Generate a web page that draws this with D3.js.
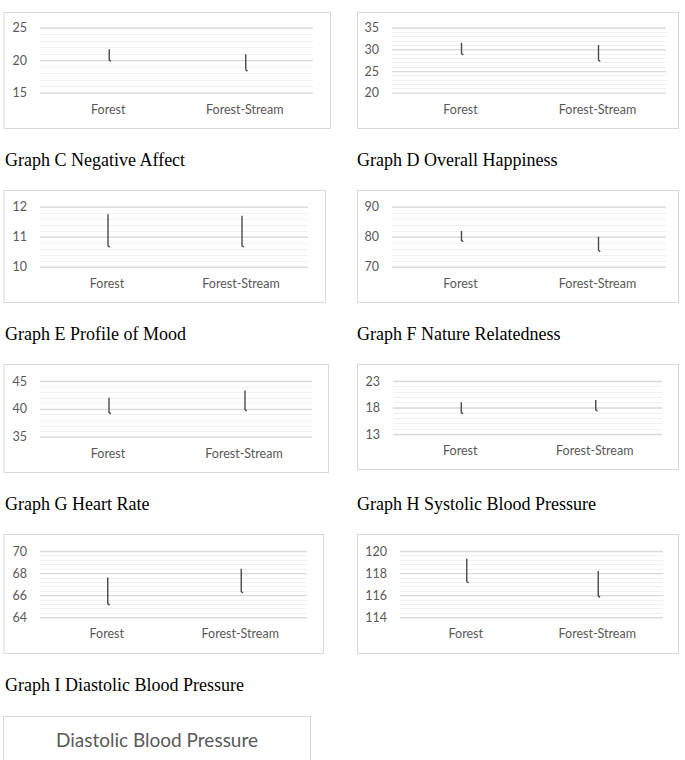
<!DOCTYPE html>
<html>
<head>
<meta charset="utf-8">
<script src="https://cdn.jsdelivr.net/npm/d3@7"></script>
<style>
  body { margin: 0; background: #fff; }
  svg { display: block; }
</style>
</head>
<body>
<div id="chart"></div>
<script>
    // data
    const categories = ["Forest", "Forest-Stream"];
    const rowTitles = ["Graph C Negative Affect", "Graph D Overall Happiness",
                       "Graph E Profile of Mood", "Graph F Nature Relatedness",
                       "Graph G Heart Rate", "Graph H Systolic Blood Pressure",
                       "Graph I Diastolic Blood Pressure"];
    const yDomains = [[15, 25], [20, 35], [10, 12], [70, 90], [35, 45], [13, 23], [64, 70], [114, 120]];
    const majorSteps = [5, 5, 1, 10, 5, 5, 2, 2];
    const minorSteps = [1, 1, 0.2, 2, 1, 1, 0.4, 0.4];
    const highValues = [[21.7, 20.9], [31.5, 31.0], [11.75, 11.7], [81.9, 80.0],
                        [42.0, 43.3], [19.0, 19.4], [67.6, 68.4], [119.3, 118.2]];
    const lowValues  = [[19.8, 18.3], [28.7, 27.2], [10.65, 10.65], [78.3, 75.0],
                        [39.1, 39.6], [16.8, 17.3], [65.1, 66.2], [117.1, 115.8]];
    const lastChartTitle = "Diastolic Blood Pressure";

    let width = 685, height = 760;

    // layout of each panel: outer box and plot area
    const boxes = [
        { x0: 3.5, x1: 330, y0: 12, y1: 128, px0: 40, px1: 313, py0: 27.7, py1: 92.7 },
        { x0: 357, x1: 678, y0: 12, y1: 128, px0: 392, px1: 666, py0: 27.7, py1: 92.7 },
        { x0: 3.5, x1: 325, y0: 190, y1: 302, px0: 40, px1: 308, py0: 206.7, py1: 266.7 },
        { x0: 357, x1: 678, y0: 190, y1: 302, px0: 392, px1: 666, py0: 206.7, py1: 266.7 },
        { x0: 3.5, x1: 328, y0: 364, y1: 472, px0: 40, px1: 312, py0: 381, py1: 436.7 },
        { x0: 357, x1: 678, y0: 364, y1: 469, px0: 393, px1: 662, py0: 381, py1: 434 },
        { x0: 3.5, x1: 323, y0: 534, y1: 653, px0: 40, px1: 307, py0: 551, py1: 617.3 },
        { x0: 357, x1: 678, y0: 534, y1: 653, px0: 400, px1: 663, py0: 551, py1: 617.3 }
    ];
    const titlePos = [[5, 166], [357, 166], [5, 340], [357, 340], [5, 510], [357, 510], [5, 691]];

    const svg = d3.select("#chart")
        .append("svg")
        .attr("width", width)
        .attr("height", height);

    const labelFont = "Lato, 'Open Sans', sans-serif";

    svg.selectAll("text.row-title")
        .data(rowTitles)
        .join("text")
        .attr("class", "row-title")
        .attr("x", (d, i) => titlePos[i][0])
        .attr("y", (d, i) => titlePos[i][1])
        .attr("font-family", "'Liberation Serif', 'Times New Roman', serif")
        .attr("font-size", "18px")
        .attr("fill", "#000")
        .text(d => d);

    boxes.forEach((b, i) => {
        const g = svg.append("g");

        g.append("rect")
            .attr("x", b.x0 + 0.5)
            .attr("y", b.y0 + 0.5)
            .attr("width", b.x1 - b.x0)
            .attr("height", b.y1 - b.y0)
            .attr("fill", "#fff")
            .attr("stroke", "#d9d9d9")
            .attr("stroke-width", 1);

        const x = d3.scaleBand()
            .domain(categories)
            .range([b.px0, b.px1]);

        const y = d3.scaleLinear()
            .domain(yDomains[i])
            .range([b.py1, b.py0]);

        const [lo, hi] = yDomains[i];
        const minor = d3.range(lo, hi + minorSteps[i] / 2, minorSteps[i]);
        const major = d3.range(lo, hi + majorSteps[i] / 2, majorSteps[i]);

        // minor gridlines
        g.append("g")
            .selectAll("line")
            .data(minor)
            .join("line")
            .attr("x1", b.px0)
            .attr("x2", b.px1)
            .attr("y1", d => Math.round(y(d)) + 0.5)
            .attr("y2", d => Math.round(y(d)) + 0.5)
            .attr("stroke", "#f0f0f0")
            .attr("stroke-width", 1);

        // major gridlines via the axis
        const yAxis = d3.axisLeft(y)
            .tickValues(major)
            .tickSize(-(b.px1 - b.px0))
            .tickPadding(13)
            .tickFormat(d3.format("d"));

        const ax = g.append("g")
            .attr("transform", `translate(${b.px0},0)`)
            .call(yAxis);
        ax.select(".domain").remove();
        ax.selectAll(".tick line")
            .attr("stroke", "#d9d9d9")
            .attr("stroke-width", 1.3);
        ax.selectAll(".tick text")
            .attr("font-family", labelFont)
            .attr("font-size", "12.5px")
            .attr("fill", "#595959");

        const xAxis = d3.axisBottom(x).tickSize(0).tickPadding(12);
        const axb = g.append("g")
            .attr("transform", `translate(0,${b.py1})`)
            .call(xAxis);
        axb.select(".domain").remove();
        axb.selectAll(".tick text")
            .attr("font-family", labelFont)
            .attr("font-size", "12.5px")
            .attr("fill", "#595959");

        // high-low lines
        g.append("g")
            .selectAll("path")
            .data(categories)
            .join("path")
            .attr("d", (c, j) => {
                const cx = x(c) + x.bandwidth() / 2 + 1;
                const yh = y(highValues[i][j]);
                const yl = y(lowValues[i][j]);
                return `M${cx},${yh}V${yl - 1.5}L${cx + 1.8},${yl}`;
            })
            .attr("fill", "none")
            .attr("stroke", "#4a4a4a")
            .attr("stroke-width", 1.4);
    });

    // last, cut-off panel
    svg.append("rect")
        .attr("x", 3.5)
        .attr("y", 716.5)
        .attr("width", 307)
        .attr("height", 80)
        .attr("fill", "#fff")
        .attr("stroke", "#d9d9d9");

    svg.append("text")
        .attr("x", 157)
        .attr("y", 747)
        .attr("text-anchor", "middle")
        .attr("font-family", labelFont)
        .attr("font-size", "19px")
        .attr("fill", "#595959")
        .text(lastChartTitle);
</script>
</body>
</html>
